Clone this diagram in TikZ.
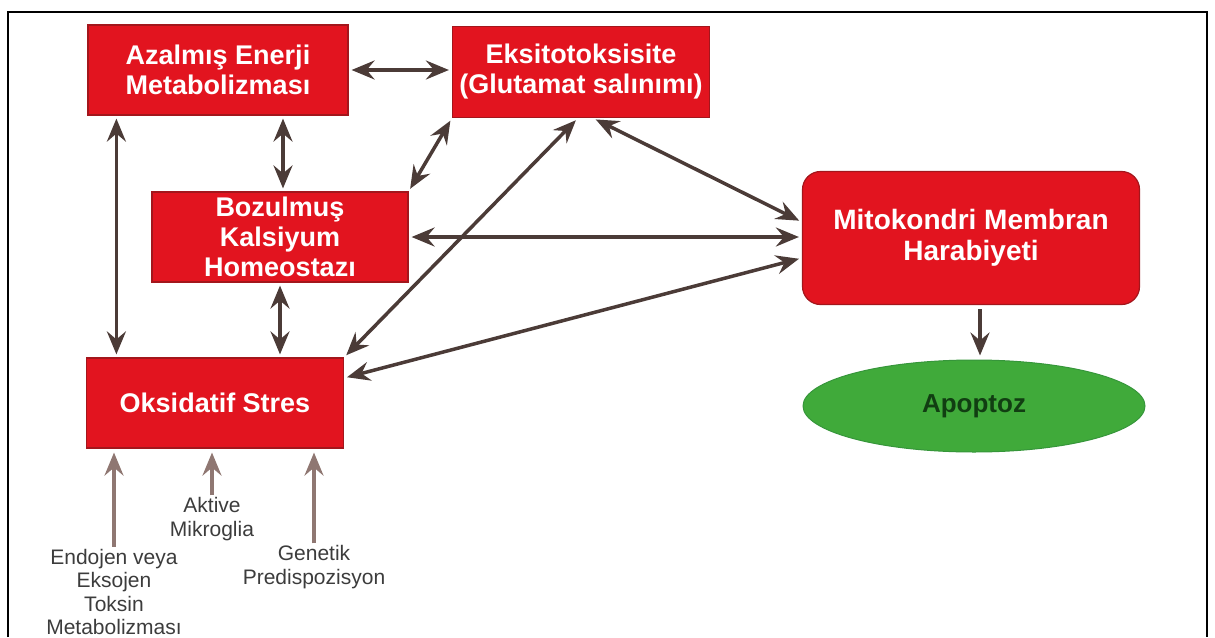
\documentclass[tikz,border=0pt]{standalone}
\usepackage{fontspec}
\setmainfont{Liberation Sans}
\usetikzlibrary{arrows.meta,shapes.geometric}
\definecolor{kutukirmizi}{HTML}{E2141F}
\definecolor{kutukenar}{HTML}{A3161C}
\definecolor{yesil}{HTML}{40AA3A}
\definecolor{yesilkenar}{HTML}{36963A}
\definecolor{yesilyazi}{HTML}{113E12}
\definecolor{okrenk}{HTML}{4B3B37}
\definecolor{girdiok}{HTML}{8F7772}
\definecolor{yazigri}{HTML}{3C3C3C}

\begin{document}
\begin{tikzpicture}[x=1pt, y=-1pt, >={Stealth[length=23pt, width=19pt, inset=8pt]},
  kutu/.style={draw=kutukenar, line width=1.2pt, fill=kutukirmizi, text=white, align=center,
    inner sep=0pt, font=\bfseries\fontsize{27}{30}\selectfont},
  girdi/.style={text=yazigri, align=center, inner sep=0pt, font=\fontsize{21}{23.5}\selectfont},
  iki/.style={<->, line width=3.5pt, draw=okrenk, shorten <=3pt, shorten >=3pt},
  tek/.style={->, line width=3.5pt, draw=okrenk, shorten <=4pt, shorten >=4pt},
  gok/.style={->, line width=3.2pt, draw=girdiok, shorten <=2pt, shorten >=4pt}]
  \useasboundingbox (0,0) rectangle (1215,637);
  \draw[line width=2.5pt] (8,637) |- (1207,12) -- (1207,637);

  % States
  \node[kutu, minimum width=260pt, minimum height=90pt] (azalmis) at (218,70) {Azalmış Enerji\\Metabolizması};
  \node[kutu, minimum width=257pt, minimum height=91pt] (eksito) at (581,72) {Eksitotoksisite\\(Glutamat salınımı)};
  \node[kutu, minimum width=256pt, minimum height=90pt] (bozulmus) at (280,237) {Bozulmuş\\Kalsiyum\\Homeostazı};
  \node[kutu, minimum width=257pt, minimum height=90pt] (oksidatif) at (215,403) {Oksidatif Stres};
  \node[kutu, rounded corners=18pt, minimum width=337pt, minimum height=133pt,
    font=\bfseries\fontsize{28}{31}\selectfont] (mito) at (971,238) {Mitokondri Membran\\Harabiyeti};
  \node[ellipse, draw=yesilkenar, line width=1pt, fill=yesil, text=yesilyazi, inner sep=0pt,
    minimum width=342pt, minimum height=92pt, font=\bfseries\fontsize{26}{30}\selectfont] (apop) at (974,406) {Apoptoz};

  \node[girdi] (endojen) at (114,592) {Endojen veya\\Eksojen\\Toksin\\Metabolizması};
  \node[girdi] (aktive) at (212,519) {Aktive\\Mikroglia};
  \node[girdi] (genetik) at (314,567) {Genetik\\Predispozisyon};

  % Edges
  \draw[iki] (azalmis.east) -- (azalmis.east -| eksito.west);
  \draw[iki] ([xshift=3pt]azalmis.south -| bozulmus.north) -- ([xshift=3pt]bozulmus.north);
  \draw[iki] ([xshift=29pt]azalmis.south west) -- ([xshift=29pt]azalmis.south west |- oksidatif.north);
  \draw[iki] (bozulmus.south) -- (bozulmus.south |- oksidatif.north);
  \draw[iki] (bozulmus.north east) -- (eksito.south west);
  \draw[iki] (oksidatif.north east) -- ([xshift=-3pt]eksito.south);
  \draw[iki] ([xshift=12pt]eksito.south) -- ([yshift=16pt]mito.west);
  \draw[iki] (bozulmus.east) -- (bozulmus.east -| mito.west);
  \draw[iki] ([yshift=25pt]oksidatif.east) -- ([yshift=-20pt]mito.west);
  \draw[tek] ([xshift=9pt]mito.south) -- ([xshift=9pt]mito.south |- apop.north);

  % Girdiler
  \draw[gok] (endojen.north) -- (endojen.north |- oksidatif.south);
  \draw[gok] (aktive.north) -- (aktive.north |- oksidatif.south);
  \draw[gok] (genetik.north) -- (genetik.north |- oksidatif.south);
\end{tikzpicture}
\end{document}
